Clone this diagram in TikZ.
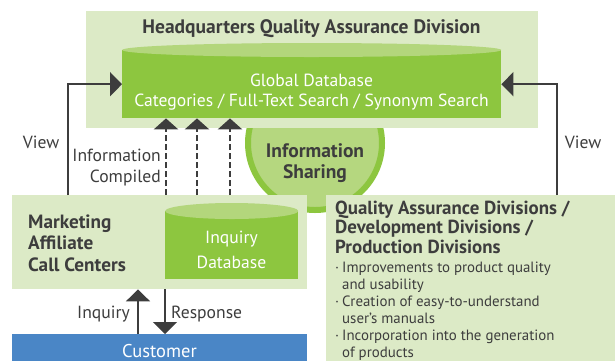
\documentclass[tikz,border=0pt]{standalone}
\usepackage{fontspec}
\setmainfont{PT Sans}
\usetikzlibrary{arrows.meta}
\definecolor{hqgreen}{HTML}{DCEAC6}
\definecolor{dbgreen}{HTML}{8DC63F}
\definecolor{dbtop}{HTML}{B3D67C}
\definecolor{sharegreen}{HTML}{B5D77F}
\definecolor{inkgray}{HTML}{3D3D3D}
\definecolor{custblue}{HTML}{4A86C6}

\begin{document}
\begin{tikzpicture}[x=1pt, y=-1pt,
    panel/.style={fill=hqgreen, inner sep=0pt, anchor=north west},
    dbbody/.style={fill=dbgreen, inner sep=0pt, anchor=north west},
    arrow/.style={-{Triangle[length=12pt,width=24pt]}, line width=2pt, draw=inkgray},
    dasharrow/.style={-{Triangle[length=11pt,width=24pt]}, line width=2.5pt, draw=inkgray,
                      dash pattern=on 6pt off 3pt},
    head/.style={font=\bfseries\fontsize{19.5}{21}\selectfont, text=inkgray, inner sep=0pt},
    lbl/.style={font=\fontsize{17.6}{21}\selectfont, text=inkgray, inner sep=0pt},
    dbtext/.style={font=\fontsize{17.6}{20}\selectfont, text=white, inner sep=0pt, align=center}
  ]
    \useasboundingbox (0,0) rectangle (615,360);
    \clip (0,0) rectangle (615,360);

    % sharing circle sits behind the panels
    \node[circle, fill=sharegreen, draw=dbgreen, line width=6pt, minimum size=134pt,
          inner sep=0pt] (share) at (315,143) {};

    % headquarters panel with global database
    \node[panel, minimum width=452pt, minimum height=117pt] (hq) at (86,11) {};
    \node[head, anchor=base] (hqtitle) at (311.5,33) {Headquarters Quality Assurance Division};
    \node[dbbody, minimum width=379pt, minimum height=68pt] (gdb) at (122,50) {};
    \fill[dbtop] (gdb.north) ellipse [x radius=189.5pt, y radius=7pt];
    \node[dbtext, anchor=base] (gdbtxt) at (311.5,106)
      {Global Database\\Categories / Full-Text Search / Synonym Search};

    \node[head, anchor=base, align=center] (sharetxt) at (315,178)
      {Information\\Sharing};

    % call centers panel with inquiry database
    \node[panel, minimum width=295pt, minimum height=94pt] (mkt) at (12,195) {};
    \node[head, anchor=base west, align=left, font=\bfseries\fontsize{19.2}{21.5}\selectfont]
      (mkttxt) at (28,271) {Marketing\\Affiliate\\Call Centers};
    \node[dbbody, minimum width=133pt, minimum height=68pt] (idb) at (165,211) {};
    \fill[dbtop] (idb.north) ellipse [x radius=66.5pt, y radius=8pt];
    \node[dbtext, anchor=base, font=\fontsize{17.6}{25}\selectfont] (idbtxt) at (231.5,268)
      {Inquiry\\Database};

    % customer
    \node[fill=custblue, inner sep=0pt, anchor=north west, minimum width=295pt,
          minimum height=40pt] (cust) at (12,334) {};
    \node[lbl, text=white, anchor=base, font=\fontsize{18.5}{21}\selectfont]
      (custtxt) at (159.5,357) {Customer};

    % divisions panel
    \node[panel, minimum width=300pt, minimum height=180pt] (qa) at (326,195) {};
    \node[head, anchor=base west, align=left, font=\bfseries\fontsize{18.9}{19.2}\selectfont]
      (qatitle) at (335,253)
      {Quality Assurance Divisions /\\Development Divisions /\\Production Divisions};
    \node[lbl, anchor=base west, align=left, font=\fontsize{14.9}{17}\selectfont]
      (qalist) at (335,357)
      {\makebox[7pt][l]{·}Improvements to product quality\\
       \hspace*{7pt}and usability\\
       \makebox[7pt][l]{·}Creation of easy-to-understand\\
       \hspace*{7pt}user’s manuals\\
       \makebox[7pt][l]{·}Incorporation into the generation\\
       \hspace*{7pt}of products};

    % view links
    \draw[arrow] (68,0 |- mkt.north) |- (gdb.west);
    \draw[arrow] (557,0 |- qa.north) |- (gdb.east);
    \node[lbl, anchor=base] (viewl) at (41,148) {View};
    \node[lbl, anchor=base] (viewr) at (583,148) {View};

    % compiled information
    \foreach \x in {166,197,230}
      \draw[dasharrow] (\x,0 |- mkt.north) -- (\x,0 |- gdb.south);
    \node[lbl, anchor=base east, align=right] (infotxt) at (161,182)
      {Information\\Compiled};

    % inquiry and response
    \draw[arrow] (138,0 |- cust.north) -- (138,0 |- mkt.south);
    \draw[arrow] (165,0 |- mkt.south) -- (165,0 |- cust.north);
    \node[lbl, anchor=base east] (inqtxt) at (130,318) {Inquiry};
    \node[lbl, anchor=base west] (restxt) at (171,318) {Response};
  \end{tikzpicture}
\end{document}
